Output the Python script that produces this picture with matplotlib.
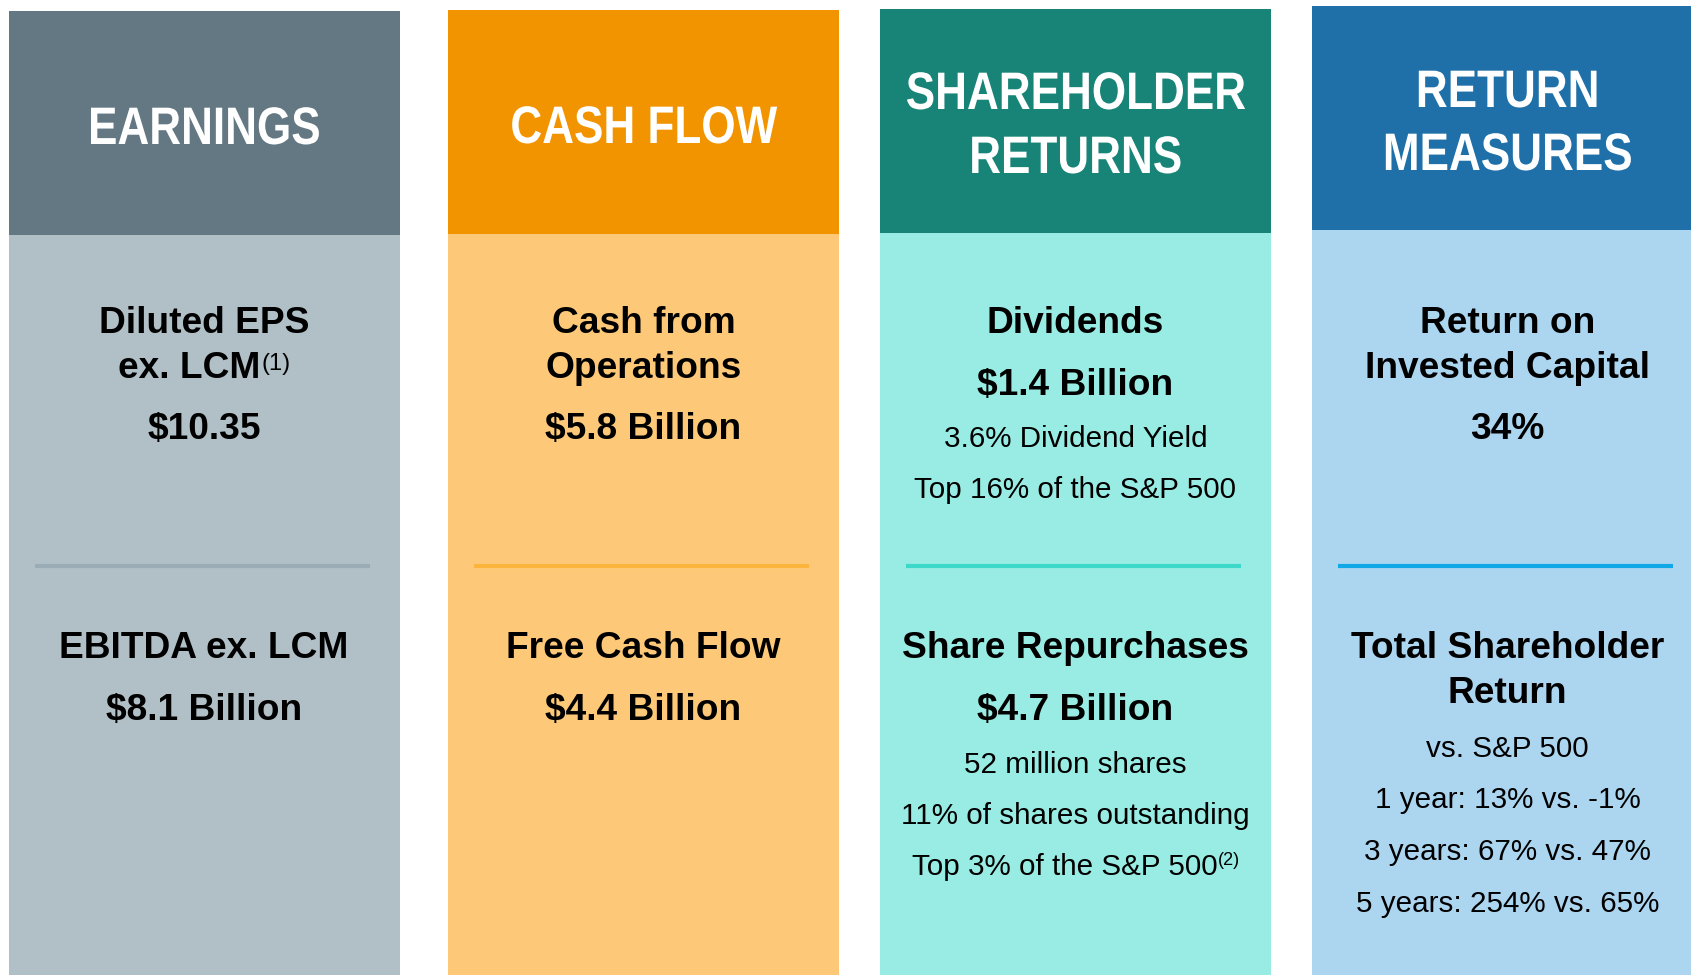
import matplotlib
matplotlib.use("Agg")
import matplotlib.pyplot as plt
from matplotlib.patches import Rectangle
from matplotlib.patheffects import AbstractPathEffect
from matplotlib.transforms import Affine2D

# ---------------- data ----------------
headers = [["EARNINGS"], ["CASH FLOW"], ["SHAREHOLDER", "RETURNS"], ["RETURN", "MEASURES"]]

top_titles = [["Diluted EPS", "ex. LCM"], ["Cash from", "Operations"], ["Dividends"],
              ["Return on", "Invested Capital"]]
top_title_sup = ["(1)", "", "", ""]
top_values = ["$10.35", "$5.8 Billion", "$1.4 Billion", "34%"]
top_details = [[], [], ["3.6% Dividend Yield", "Top 16% of the S&P 500"], []]

bottom_titles = [["EBITDA ex. LCM"], ["Free Cash Flow"], ["Share Repurchases"],
                 ["Total Shareholder", "Return"]]
bottom_values = ["$8.1 Billion", "$4.4 Billion", "$4.7 Billion", ""]
bottom_details = [[], [],
                  ["52 million shares", "11% of shares outstanding", "Top 3% of the S&P 500"],
                  ["vs. S&P 500", "1 year: 13% vs. -1%", "3 years: 67% vs. 47%",
                   "5 years: 254% vs. 65%"]]
bottom_detail_sup = [None, None, (2, "(2)"), None]

# ---------------- style / layout ----------------
header_colors = ["#637883", "#f29400", "#188477", "#1f70a8"]
body_colors = ["#b1bfc7", "#fdc978", "#99ece3", "#acd5f0"]
line_colors = ["#9aacb5", "#fdb43c", "#3cd9cb", "#10a8e6"]
col_left = [8.6, 448, 880, 1312]
col_width = 391
col_top = [11, 10, 9, 6]
head_bottom = [235, 234, 233, 230]

W, H = 1691, 975
fig = plt.figure(figsize=(W / 100, H / 100), dpi=100)
ax = fig.add_axes([0, 0, 1, 1])
ax.set_xlim(0, W)
ax.set_ylim(H, 0)
ax.axis("off")

body_font = ["Liberation Sans", "DejaVu Sans"]

TITLE_FS = 26.7
DETAIL_FS = 21.3
HEAD_FS = 38
HEAD_SX = 0.835


class HorizontalSqueeze(AbstractPathEffect):
    """Draw text glyphs narrowed horizontally about a given display x (condensed look)."""

    def __init__(self, sx, cx):
        super().__init__()
        self.sx = sx
        self.cx = cx

    def draw_path(self, renderer, gc, tpath, affine, rgbFace=None):
        squeeze = Affine2D().translate(-self.cx, 0).scale(self.sx, 1).translate(self.cx, 0)
        renderer.draw_path(gc, tpath, affine + squeeze, rgbFace)


renderer = fig.canvas.get_renderer()


def text_with_sup(x, y, s, sup, fs, sup_fs, weight, raise_px):
    t = ax.text(x, y, s, ha="center", va="baseline", fontsize=fs, fontweight=weight,
                family=body_font, color="black")
    if not sup:
        return
    st = ax.text(x, y - raise_px, sup, ha="left", va="baseline", fontsize=sup_fs,
                 family=body_font, color="black")
    w_main = t.get_window_extent(renderer).width
    w_sup = st.get_window_extent(renderer).width
    shift = w_sup / 2
    t.set_x(x - shift)
    st.set_x(x - shift + w_main / 2 + 1)


for i in range(4):
    x0 = col_left[i]
    cx = x0 + col_width / 2
    ax.add_patch(Rectangle((x0, col_top[i]), col_width, head_bottom[i] - col_top[i],
                           facecolor=header_colors[i], edgecolor="none"))
    ax.add_patch(Rectangle((x0, head_bottom[i]), col_width, H - head_bottom[i],
                           facecolor=body_colors[i], edgecolor="none"))
    # divider
    ax.plot([x0 + 26, x0 + 361], [566, 566], color=line_colors[i], lw=3,
            solid_capstyle="butt")

    # header (condensed bold white)
    hl = headers[i]
    if len(hl) == 1:
        base = [144 - (i == 1)]
    else:
        base = [109, 173] if i == 2 else [107, 170]
    for s, b in zip(hl, base):
        ax.text(cx, b, s, ha="center", va="baseline", fontsize=HEAD_FS, fontweight="bold",
                family=body_font, color="white",
                path_effects=[HorizontalSqueeze(HEAD_SX, cx)])

    # top block
    y = 333
    tt = top_titles[i]
    for k, s in enumerate(tt):
        sup = top_title_sup[i] if k == len(tt) - 1 else ""
        text_with_sup(cx, y, s, sup, TITLE_FS, 17, "bold", 8)
        y += 45
    y = 395 if len(tt) == 1 else 439
    ax.text(cx, y, top_values[i], ha="center", va="baseline", fontsize=TITLE_FS,
            fontweight="bold", family=body_font, color="black")
    dy = 447
    for s in top_details[i]:
        ax.text(cx, dy, s, ha="center", va="baseline", fontsize=DETAIL_FS,
                family=body_font, color="black")
        dy += 51

    # bottom block
    y = 658
    for s in bottom_titles[i]:
        ax.text(cx, y, s, ha="center", va="baseline", fontsize=TITLE_FS, fontweight="bold",
                family=body_font, color="black")
        y += 45
    if bottom_values[i]:
        ax.text(cx, 720, bottom_values[i], ha="center", va="baseline", fontsize=TITLE_FS,
                fontweight="bold", family=body_font, color="black")
        dy = 773
    else:
        dy = 757
    for k, s in enumerate(bottom_details[i]):
        sup = ""
        if bottom_detail_sup[i] and bottom_detail_sup[i][0] == k:
            sup = bottom_detail_sup[i][1]
        text_with_sup(cx, dy, s, sup, DETAIL_FS, 13, "normal", 10)
        dy += 51 if bottom_values[i] else 51.5

fig.savefig("out.png", dpi=100)
